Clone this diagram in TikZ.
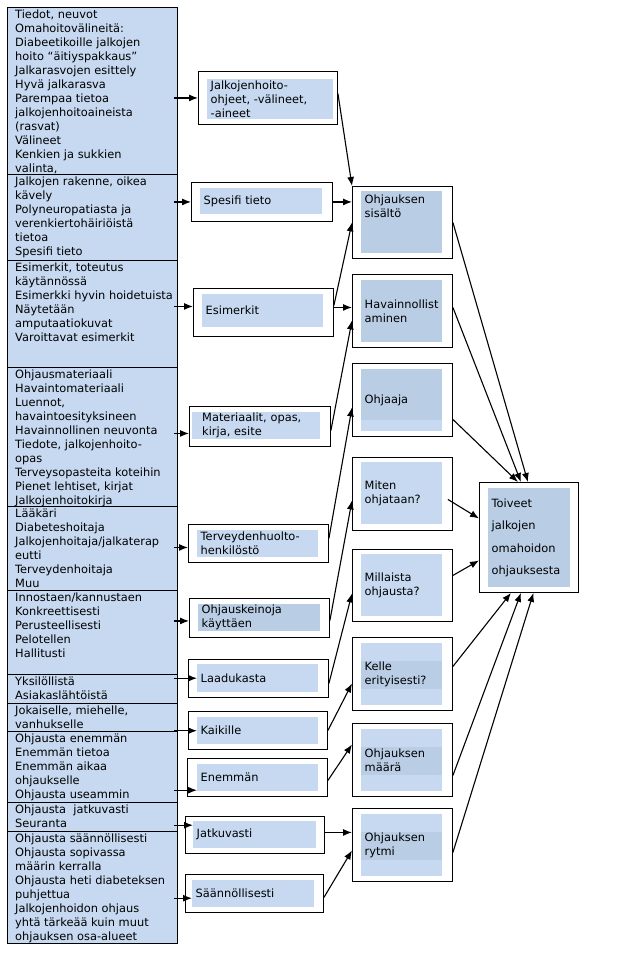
\documentclass[tikz,border=0pt]{standalone}
\usepackage{fontspec}
\setmainfont{DejaVu Sans}
\usepackage{tikz}
\usetikzlibrary{arrows.meta,positioning}
\definecolor{paleblue}{HTML}{C6D9F1}
\definecolor{deepblue}{HTML}{B9CDE5}
\tikzset{
    %Define standard arrow tip
    >={Latex[length=9pt,width=7pt]},
    %Define style for the left column
    cellbox/.style={
           rectangle,
           draw=black, line width=0.9pt,
           fill=paleblue,
           anchor=north west,
           minimum width=170pt,
           inner sep=0pt},
    celltext/.style={
           anchor=north west,
           align=left,
           inner xsep=8pt,
           inner ysep=3pt},
    %Define style for boxes
    framebox/.style 2 args={
           rectangle,
           draw=black, line width=0.9pt,
           fill=white,
           anchor=north west,
           minimum width=#1,
           minimum height=#2,
           inner sep=0pt},
    panel/.style 2 args={
           rectangle,
           fill=paleblue,
           anchor=north west,
           align=left,
           text width=#1,
           minimum height=#2,
           inner xsep=3.5pt,
           inner ysep=0pt},
    paneltext/.style={
           align=left,
           inner xsep=3.5pt,
           inner ysep=3.5pt},
    banded/.style={
           path picture={\fill[deepblue] ([yshift=-18pt]path picture bounding box.north west)
               rectangle ([yshift=16pt]path picture bounding box.south east);}},
    topdark/.style={
           path picture={\fill[deepblue] (path picture bounding box.north west)
               rectangle ([yshift=11pt]path picture bounding box.south east);}},
    % Define arrow style
    feed/.style={
           ->,
           line width=1.1pt,
           shorten <=-4pt},
    link/.style={
           ->,
           line width=1.1pt}
}
\begin{document}
\begin{tikzpicture}[x=1pt,y=-1pt,font=\fontsize{11.4}{14}\selectfont]
\useasboundingbox (0,0) rectangle (632,953);

 %left column
\node[cellbox, minimum height=167pt] (c1) at (7,7) {};
\node[cellbox, minimum height=86pt] (c2) at (7,174) {};
\node[cellbox, minimum height=107pt] (c3) at (7,260) {};
\node[cellbox, minimum height=139pt] (c4) at (7,367) {};
\node[cellbox, minimum height=84pt] (c5) at (7,506) {};
\node[cellbox, minimum height=84pt] (c6) at (7,590) {};
\node[cellbox, minimum height=29pt] (c7) at (7,674) {};
\node[cellbox, minimum height=28pt] (c8) at (7,703) {};
\node[cellbox, minimum height=71pt] (c9) at (7,731) {};
\node[cellbox, minimum height=29pt] (c10) at (7,802) {};
\node[cellbox, minimum height=112pt] (c11) at (7,831) {};

\node[celltext] at (c1.north west) {Tiedot, neuvot\\Omahoitovälineitä:\\Diabeetikoille jalkojen\\hoito “äitiyspakkaus”\\Jalkarasvojen esittely\\Hyvä jalkarasva\\Parempaa tietoa\\jalkojenhoitoaineista\\(rasvat)\\Välineet\\Kenkien ja sukkien\\valinta,};
\node[celltext] at (c2.north west) {Jalkojen rakenne, oikea\\kävely\\Polyneuropatiasta ja\\verenkiertohäiriöistä\\tietoa\\Spesifi tieto};
\node[celltext] at (c3.north west) {Esimerkit, toteutus\\käytännössä\\Esimerkki hyvin hoidetuista\\Näytetään\\amputaatiokuvat\\Varoittavat esimerkit};
\node[celltext] at (c4.north west) {Ohjausmateriaali\\Havaintomateriaali\\Luennot,\\havaintoesityksineen\\Havainnollinen neuvonta\\Tiedote, jalkojenhoito-\\opas\\Terveysopasteita koteihin\\Pienet lehtiset, kirjat\\Jalkojenhoitokirja};
\node[celltext] at (c5.north west) {Lääkäri\\Diabeteshoitaja\\Jalkojenhoitaja/jalkaterap\\eutti\\Terveydenhoitaja\\Muu};
\node[celltext] at (c6.north west) {Innostaen/kannustaen\\Konkreettisesti\\Perusteellisesti\\Pelotellen\\Hallitusti};
\node[celltext] at (c7.north west) {Yksilöllistä\\Asiakaslähtöistä};
\node[celltext] at (c8.north west) {Jokaiselle, miehelle,\\vanhukselle};
\node[celltext] at (c9.north west) {Ohjausta enemmän\\Enemmän tietoa\\Enemmän aikaa\\ohjaukselle\\Ohjausta useammin};
\node[celltext] at (c10.north west) {Ohjausta\ \ jatkuvasti\\Seuranta};
\node[celltext] at (c11.north west) {Ohjausta säännöllisesti\\Ohjausta sopivassa\\määrin kerralla\\Ohjausta heti diabeteksen\\puhjettua\\Jalkojenhoidon ohjaus\\yhtä tärkeää kuin muut\\ohjauksen osa-alueet};

 %middle column
\node[framebox={139pt}{53pt}] (b1) at (198,71) {};
\node[panel={119pt}{40pt}] (f1) at (207,79) {Jalkojenhoito-\\ohjeet, -välineet,\\-aineet};
\node[framebox={141pt}{39pt}] (b2) at (191,182) {};
\node[panel={115pt}{26pt}] (f2) at (200,188) {Spesifi tieto};
\node[framebox={140pt}{48pt}] (b3) at (193,288) {};
\node[panel={114pt}{33pt}] (f3) at (202,294) {Esimerkit};
\node[framebox={141pt}{40pt}] (b4) at (189,406) {};
\node[panel={108pt}{27pt}, inner xsep=10pt] (f4) at (192,412) {Materiaalit, opas,\\kirja, esite};
\node[framebox={140pt}{38pt}] (b5) at (188,524) {};
\node[panel={114pt}{27pt}] (f5) at (197,530) {Terveydenhuolto-\\henkilöstö};
\node[framebox={140pt}{39pt}] (b6) at (189,598) {};
\node[panel={115pt}{27pt}, fill=deepblue] (f6) at (198,604) {Ohjauskeinoja\\käyttäen};
\node[framebox={140pt}{38pt}] (b7) at (188,659) {};
\node[panel={114pt}{28pt}] (f7) at (197,664) {Laadukasta};
\node[framebox={139pt}{38pt}] (b8) at (188,711) {};
\node[panel={114pt}{27pt}] (f8) at (197,717) {Kaikille};
\node[framebox={140pt}{38pt}] (b9) at (187,758) {};
\node[panel={114pt}{27pt}] (f9) at (197,764) {Enemmän};
\node[framebox={139pt}{37pt}] (b10) at (185,816) {};
\node[panel={116pt}{27pt}] (f10) at (193,821) {Jatkuvasti};
\node[framebox={138pt}{38pt}] (b11) at (185,874) {};
\node[panel={115pt}{27pt}] (f11) at (192,880) {Säännöllisesti};

 %right column
\node[framebox={100pt}{72pt}] (r1) at (352,186) {};
\node[panel={74pt}{62pt}, fill=deepblue] (r1f) at (361,191) {};
\node[paneltext, below right=0pt and 0pt of r1f.north west] {Ohjauksen\\sisältö};
\node[framebox={100pt}{73pt}] (r2) at (352,274) {};
\node[panel={74pt}{62pt}, fill=deepblue] (r2f) at (361,280) {Havainnollist\\aminen};
\node[framebox={100pt}{73pt}] (r3) at (352,363) {};
\node[panel={74pt}{62pt}, topdark] (r3f) at (361,369) {Ohjaaja};
\node[framebox={100pt}{73pt}] (r4) at (352,457) {};
\node[panel={74pt}{62pt}] (r4f) at (361,462) {Miten\\ohjataan?};
\node[framebox={100pt}{72pt}] (r5) at (352,549) {};
\node[panel={74pt}{62pt}] (r5f) at (361,554) {Millaista\\ohjausta?};
\node[framebox={100pt}{73pt}] (r6) at (352,637) {};
\node[panel={74pt}{62pt}, banded] (r6f) at (361,643) {Kelle\\erityisesti?};
\node[framebox={100pt}{73pt}] (r7) at (352,723) {};
\node[panel={74pt}{62pt}, banded] (r7f) at (361,729) {Ohjauksen\\määrä};
\node[framebox={100pt}{73pt}] (r8) at (352,808) {};
\node[panel={74pt}{62pt}, banded] (r8f) at (361,814) {Ohjauksen\\rytmi};

 %target
\node[framebox={99pt}{110pt}] (t) at (479,482) {};
\node[panel={75pt}{99pt}, fill=deepblue, font=\fontsize{11.4}{22.5}\selectfont] (tf) at (488,488) {Toiveet\\jalkojen\\omahoidon\\ohjauksesta};

 %arrows into the middle column
\draw[feed] (c1.east |- b1.west) -- (b1.west);
\draw[feed] (c2.east |- b2.west) -- (b2.west);
\draw[feed] ([yshift=6pt]b3.west -| c3.east) -- ([yshift=6pt]b3.west);
\draw[feed] ([yshift=-7pt]b4.west -| c4.east) -- ([yshift=-7pt]b4.west);
\draw[feed] ([yshift=-4pt]b5.west -| c5.east) -- ([yshift=-4pt]b5.west);
\draw[feed] ([yshift=-3pt]b6.west -| c6.east) -- ([yshift=-3pt]b6.west);
\draw[feed] (c7.east |- f7.west) -- (f7.west);
\draw[feed] (c8.east |- f8.west) -- (f8.west);
\draw[feed] ([yshift=-12.5pt]f9.west -| c9.east) -- ([yshift=-12.5pt]f9.west);
\draw[feed] ([yshift=9.5pt]f10.west -| c10.east) -- ([yshift=9.5pt]f10.west);
\draw[feed] ([yshift=-4.5pt]f11.west -| c11.east) -- ([yshift=-4.5pt]f11.west);

 %arrows into the right column
\draw[link] ([yshift=4.5pt]b1.east) -- (r1.north west);
\draw[link] (b2.east) -- (b2.east -| r1.west);
\draw[link] ([yshift=7pt]b3.east) -- (r1.west);
\draw[link] ([yshift=5pt]b3.east) -- ([yshift=5pt]b3.east -| r2.west);
\draw[link] ([yshift=-4pt]b4.east) -- ([yshift=-9.5pt]r2.west);
\draw[link] ([yshift=5pt]b5.east) -- ([yshift=-7.5pt]r3.west);
\draw[link] ([yshift=-2.5pt]b6.east) -- ([yshift=-6.5pt]r4.west);
\draw[link] ([yshift=-5pt]b7.east) -- ([yshift=-8pt]r5.west);
\draw[link] (b8.east) -- ([yshift=-9.5pt]r6.west);
\draw[link] ([yshift=-3pt]b9.east) -- ([yshift=15.5pt]r7.west);
\draw[link] ([yshift=2.5pt]b10.east) -- ([yshift=2.5pt]b10.east -| r8.west);
\draw[link] ([yshift=-4pt]b11.east) -- ([yshift=-5.5pt]r8.west);

 %arrows into the target
\draw[link] (r1.east) -- ([xshift=-1pt]t.north);
\draw[link] ([yshift=3.5pt]r2.east) -- ([xshift=-8pt]t.north);
\draw[link] ([yshift=-19.5pt]r3.east) -- ([xshift=-11pt]t.north);
\draw[link] ([xshift=-5pt,yshift=-5.5pt]r4.east) -- ([yshift=19pt]t.west);
\draw[link] ([yshift=10pt]r5.east) -- ([yshift=-23pt]t.west);
\draw[link] ([yshift=7.5pt]r6.east) -- ([xshift=-18pt]t.south);
\draw[link] ([yshift=-15.5pt]r7.east) -- ([xshift=-8pt]t.south);
\draw[link] ([yshift=-7.5pt]r8.east) -- ([xshift=4.5pt]t.south);
\end{tikzpicture}
\end{document}
